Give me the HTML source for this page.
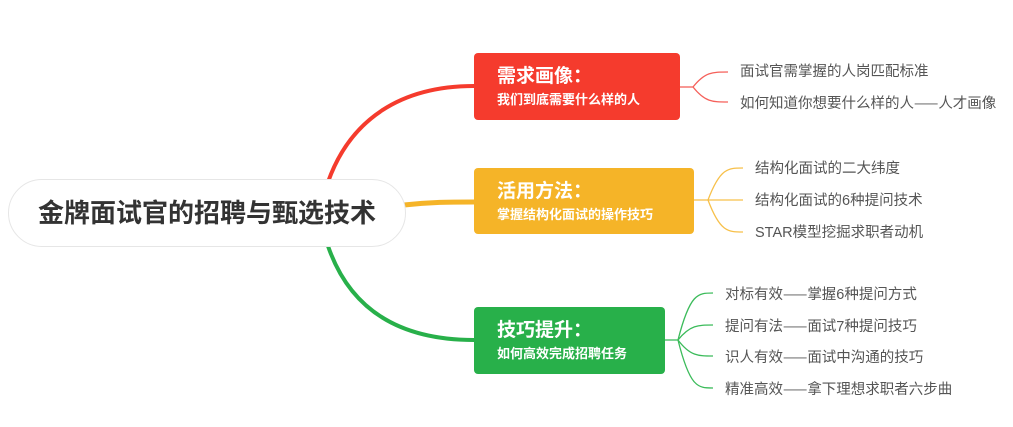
<!DOCTYPE html>
<html><head><meta charset="utf-8"><style>
body{margin:0;width:1013px;height:427px;background:#fff;position:relative;overflow:hidden;font-family:"Liberation Sans","Noto Sans CJK SC",sans-serif}
.c{position:absolute;left:8px;top:179px;width:398px;height:68px;border:1px solid #e6e6e6;border-radius:36px;background:#fff;box-sizing:border-box;text-align:center;line-height:66px;font-size:26px;font-weight:bold;color:#333}
.b{position:absolute;left:474px;border-radius:4px;color:#fff;font-weight:bold;box-sizing:border-box;padding:11px 0 0 23px}
.b .t{font-size:19px;line-height:26px}
.b .s{font-size:13px;line-height:20px}
.l{position:absolute;font-size:14.5px;color:#555;line-height:18px;white-space:nowrap}
.d{font-family:"Noto Sans CJK SC",sans-serif}
</style></head><body>
<svg width="1013" height="427" style="position:absolute;left:0;top:0" fill="none">
<path d="M328 182 C350 120 400 86 474 86" stroke="#f53b2d" stroke-width="4"/>
<path d="M404 205 C430 202 450 202 474 202" stroke="#f5b428" stroke-width="5"/>
<path d="M328 246 C350 310 400 340 474 340" stroke="#28b04a" stroke-width="4"/>
<g stroke="#f5605a" stroke-width="1.3"><path d="M680 87 H693"/><path d="M693 87 C705 72 712 72 728 72"/><path d="M693 87 C705 102 712 102 728 102"/></g>
<g stroke="#f7c04a" stroke-width="1.3"><path d="M694 200 H708"/><path d="M708 200 C720 168 728 168 743 168"/><path d="M708 200 H743"/><path d="M708 200 C720 232 728 232 743 232"/></g>
<g stroke="#3bbb5a" stroke-width="1.3"><path d="M665 340 H678"/><path d="M678 340 C690 293 698 293 713 293"/><path d="M678 340 C690 325 698 325 713 325"/><path d="M678 340 C690 356 698 356 713 356"/><path d="M678 340 C690 388 698 388 713 388"/></g>
</svg>
<div class="c">金牌面试官的招聘与甄选技术</div>
<div class="b" style="top:53px;width:206px;height:67px;background:#f53b2d"><div class="t">需求画像：</div><div class="s">我们到底需要什么样的人</div></div>
<div class="b" style="top:168px;width:220px;height:66px;background:#f5b428"><div class="t">活用方法：</div><div class="s">掌握结构化面试的操作技巧</div></div>
<div class="b" style="top:307px;width:191px;height:67px;background:#28b04a"><div class="t">技巧提升：</div><div class="s">如何高效完成招聘任务</div></div>
<div class="l" style="left:740px;top:63px">面试官需掌握的人岗匹配标准</div>
<div class="l" style="left:740px;top:94px">如何知道你想要什么样的人<span class="d">——</span>人才画像</div>
<div class="l" style="left:755px;top:160px">结构化面试的二大纬度</div>
<div class="l" style="left:755px;top:192px">结构化面试的6种提问技术</div>
<div class="l" style="left:755px;top:224px">STAR模型挖掘求职者动机</div>
<div class="l" style="left:725px;top:285px">对标有效<span class="d">——</span>掌握6种提问方式</div>
<div class="l" style="left:725px;top:317px">提问有法<span class="d">——</span>面试7种提问技巧</div>
<div class="l" style="left:725px;top:348px">识人有效<span class="d">——</span>面试中沟通的技巧</div>
<div class="l" style="left:725px;top:380px">精准高效<span class="d">——</span>拿下理想求职者六步曲</div>
</body></html>
